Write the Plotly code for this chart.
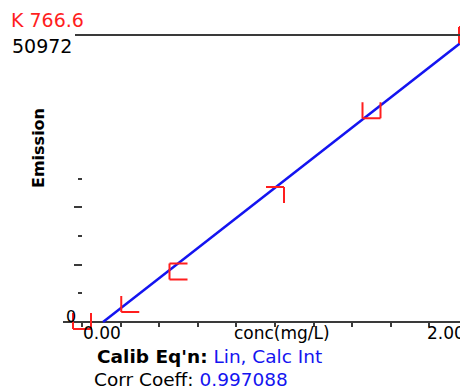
import plotly.graph_objects as go

# ---- data ----
element_line = "K 766.6"
max_emission = 50972
conc = [0.0, 0.25, 0.5, 1.0, 1.5, 2.0]              # standards, mg/L
emission = [180, 3200, 8970, 22550, 37600, 50972]     # measured emission
fit_conc = [0.109, 2.0]                               # calibration line ends
fit_emission = [0, 50600]
x_tick_values = [0.0, 0.2, 0.4, 0.6, 0.8, 1.0, 1.2, 1.4, 1.6, 1.8, 2.0]
y_major_ticks = [10194.4, 20388.8]
y_minor_ticks = [5097.2, 15291.6, 25486.0]
x_title = "conc(mg/L)"
y_title = "Emission"
x_min_label = "0.00"
x_max_label = "2.00"
calib_eq = "Lin, Calc Int"
corr_coeff = "0.997088"

# marker bracket style per standard (which sides of the box are drawn)
bracket_sides = ["lbr", "lb", "ltb", "tr", "lbr", "ltb"]

# the page has an 8px body margin: design in window pixels, shift by OFF
OFF = 8
WIN_W, WIN_H = 468, 389
W, H = WIN_W - OFF, WIN_H - OFF
PL, PR, PT, PB = 63, 468, 20, 332          # plot area in window pixels
L, T = PL - OFF, PT - OFF
R, B = W - (PR - OFF), H - (PB - OFF)
PW, PH = PR - PL, PB - PT


def px(x):
    return (x - PL) / PW


def py(y):
    return (PB - y) / PH


RED = "#ff1e1e"
BLUE = "#1414f0"
AX = "#3a3a3a"
FONT = "DejaVu Sans"

fig = go.Figure()
fig.add_trace(go.Scatter(x=fit_conc, y=fit_emission, mode="lines",
                         line=dict(color=BLUE, width=2.5),
                         hoverinfo="skip", showlegend=False))
fig.add_trace(go.Scatter(x=conc, y=emission, mode="markers",
                         marker=dict(size=1, color="rgba(0,0,0,0)"),
                         showlegend=False))

hw, hh = 9, 8
for cx, ey, sides in zip(conc, emission, bracket_sides):
    segs = []
    if "l" in sides:
        segs.append(f"M {-hw} {hh} L {-hw} {-hh}")
    if "b" in sides:
        segs.append(f"M {-hw} {-hh} L {hw} {-hh}")
    if "r" in sides:
        segs.append(f"M {hw} {-hh} L {hw} {hh}")
    if "t" in sides:
        segs.append(f"M {-hw} {hh} L {hw} {hh}")
    fig.add_shape(type="path", xref="x", yref="y",
                  xsizemode="pixel", ysizemode="pixel",
                  xanchor=cx, yanchor=ey, path=" ".join(segs),
                  line=dict(color=RED, width=2))

# top (max emission) line
fig.add_shape(type="line", xref="paper", yref="y", x0=px(75), x1=1,
              y0=max_emission, y1=max_emission, line=dict(color=AX, width=2))

x_scale = 193.0                       # px per mg/L
x_lo = (PL - 82) / x_scale
x_hi = (PR - 82) / x_scale
y_scale = max_emission / (322 - 35)
y_lo = -(PB - 322) * y_scale
y_hi = max_emission + (35 - PT) * y_scale

fig.update_layout(
    width=W, height=H,
    margin=dict(l=L, r=R, t=T, b=B, pad=0),
    paper_bgcolor="white", plot_bgcolor="white",
    showlegend=False,
    xaxis=dict(range=[x_lo, x_hi], showgrid=False, zeroline=False,
               showline=False, anchor="free", position=py(322),
               tickmode="array", tickvals=x_tick_values,
               ticks="outside", ticklen=4, tickwidth=2, tickcolor=AX,
               showticklabels=False, fixedrange=True),
    yaxis=dict(range=[y_lo, y_hi], showgrid=False,
               zeroline=True, zerolinecolor=AX, zerolinewidth=2,
               showline=False, anchor="free", position=px(82),
               tickmode="array", tickvals=y_major_ticks,
               ticks="outside", ticklen=8, tickwidth=2, tickcolor=AX,
               minor=dict(tickmode="array", tickvals=y_minor_ticks,
                          ticks="outside", ticklen=4, tickwidth=2,
                          tickcolor=AX),
               showticklabels=False, fixedrange=True),
)

ann = []


def text(t, x, y, size, color="black", xa="left", bold=False, angle=0):
    ann.append(dict(text=f"<b>{t}</b>" if bold else t,
                    x=px(x), y=py(y), xref="paper", yref="paper",
                    xanchor=xa, yanchor="middle", showarrow=False,
                    textangle=angle,
                    font=dict(family=FONT, size=size, color=color)))


text(element_line, 9, 19.5, 19, RED)
text(str(max_emission), 10, 46, 19)
text("0", 64, 316, 16)
text(y_title, 38, 148, 16, bold=True, xa="center", angle=-90)
text(x_min_label, 81, 333, 17)
text(x_title, 282, 333, 17, xa="center")
text(x_max_label, 467, 333, 17, xa="right")
text("<b>Calib Eq'n:</b> <span style='color:%s'>%s</span>" % (BLUE, calib_eq),
     95, 356, 18.5)
text("Corr Coeff: <span style='color:%s'>%s</span>" % (BLUE, corr_coeff),
     92, 379, 18.5)

fig.update_layout(annotations=ann)
fig.write_html("out.html")
